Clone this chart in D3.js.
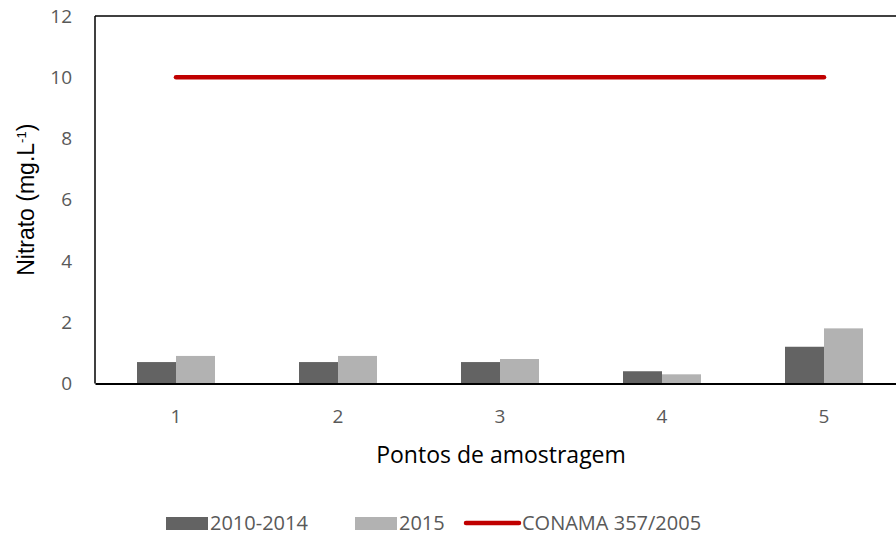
<!DOCTYPE html>
<html>
<head>
<meta charset="utf-8">
<script src="https://cdn.jsdelivr.net/npm/d3@7"></script>
<style>
  body { margin: 0; background: #fff; }
  .tick text { font-family: "Open Sans", Lato, sans-serif; }
</style>
</head>
<body>
<div id="chart"></div>
<script>
// Data
const pontos = ['1', '2', '3', '4', '5']
const serie2010 = [0.7, 0.7, 0.7, 0.4, 1.2]
const serie2015 = [0.9, 0.9, 0.8, 0.3, 1.8]
const conama = [10, 10, 10, 10, 10]
const yTicks = [0, 2, 4, 6, 8, 10, 12]
const seriesNames = ['2010-2014', '2015']

function draw() {
  const dimensions = {
    width: 896,
    height: 543,
    left: 95,
    right: 905,
    top: 16,
    bottom: 383.5,
  }

  const svg = d3.select('#chart')
    .append('svg')
    .attr('width', dimensions.width)
    .attr('height', dimensions.height)

  const dataset = pontos.map((p, i) => ({
    ponto: p,
    values: [serie2010[i], serie2015[i]],
    limite: conama[i],
  }))

  // Scales
  const xScale = d3.scaleBand()
    .domain(pontos)
    .range([dimensions.left, dimensions.right])

  const xSub = d3.scaleBand()
    .domain(seriesNames)
    .range([0, xScale.bandwidth()])
    .paddingInner(0)
    .paddingOuter(1.077)

  const yScale = d3.scaleLinear()
    .domain([0, 12])
    .range([dimensions.bottom, dimensions.top])

  const colors = d3.scaleOrdinal()
    .domain(seriesNames)
    .range(['#636363', '#b2b2b2'])

  // Bars
  const groups = svg.append('g')
    .selectAll('g')
    .data(dataset)
    .join('g')
    .attr('transform', d => `translate(${xScale(d.ponto)},0)`)

  groups.selectAll('rect')
    .data(d => d.values.map((v, i) => ({ key: seriesNames[i], value: v })))
    .join('rect')
    .attr('x', d => xSub(d.key))
    .attr('width', xSub.bandwidth())
    .attr('y', d => yScale(d.value))
    .attr('height', d => yScale(0) - yScale(d.value))
    .attr('fill', d => colors(d.key))

  // CONAMA line
  const lineGenerator = d3.line()
    .x(d => xScale(d.ponto) + xScale.bandwidth() / 2)
    .y(d => yScale(d.limite))

  svg.append('path')
    .datum(dataset)
    .attr('d', lineGenerator)
    .attr('fill', 'none')
    .attr('stroke', '#c00000')
    .attr('stroke-width', 4.5)
    .attr('stroke-linecap', 'round')

  // Frame
  svg.append('line')
    .attr('x1', dimensions.left).attr('x2', dimensions.right)
    .attr('y1', dimensions.top).attr('y2', dimensions.top)
    .attr('stroke', '#000').attr('stroke-width', 1.5)
  svg.append('line')
    .attr('x1', dimensions.left).attr('x2', dimensions.left)
    .attr('y1', dimensions.top).attr('y2', dimensions.bottom)
    .attr('stroke', '#000').attr('stroke-width', 1.5)

  // Axes
  const xAxis = d3.axisBottom(xScale).tickSize(0).tickPadding(26)
  const xAxisGroup = svg.append('g')
    .attr('transform', `translate(0, ${dimensions.bottom})`)
    .call(xAxis)
  xAxisGroup.select('.domain').attr('stroke', '#000').attr('stroke-width', 2.2)
  xAxisGroup.selectAll('text')
    .attr('fill', '#595959')
    .style('font-size', '19px')

  const yAxis = d3.axisLeft(yScale).tickValues(yTicks).tickSize(0).tickPadding(23)
  const yAxisGroup = svg.append('g')
    .attr('transform', `translate(${dimensions.left}, 0)`)
    .call(yAxis)
  yAxisGroup.select('.domain').remove()
  yAxisGroup.selectAll('text')
    .attr('fill', '#595959')
    .style('font-size', '19px')

  // Axis titles
  svg.append('text')
    .attr('x', 501)
    .attr('y', 463)
    .attr('text-anchor', 'middle')
    .style('font-family', '"Open Sans", Lato, sans-serif')
    .style('font-size', '23px')
    .attr('fill', '#000')
    .text('Pontos de amostragem')

  const yTitle = svg.append('text')
    .attr('transform', `translate(34, ${(dimensions.top + dimensions.bottom) / 2}) rotate(-90)`)
    .attr('text-anchor', 'middle')
    .style('font-family', '"Liberation Sans", Arial, sans-serif')
    .style('font-size', '23px')
    .attr('fill', '#000')
  yTitle.append('tspan').text('Nitrato (mg.L')
  yTitle.append('tspan').attr('dy', -8).style('font-size', '13px').text('-1')
  yTitle.append('tspan').attr('dy', 8).text(')')

  // Legend
  const legend = svg.append('g')
    .style('font-family', '"Open Sans", Lato, sans-serif')
    .style('font-size', '20px')
  const legendY = 523

  legend.append('rect')
    .attr('x', 166).attr('y', legendY - 6).attr('width', 42).attr('height', 13)
    .attr('fill', colors('2010-2014'))
  legend.append('text')
    .attr('x', 210).attr('y', legendY).attr('dy', '0.35em')
    .attr('fill', '#595959').text('2010-2014')

  legend.append('rect')
    .attr('x', 355).attr('y', legendY - 6).attr('width', 42).attr('height', 13)
    .attr('fill', colors('2015'))
  legend.append('text')
    .attr('x', 399).attr('y', legendY).attr('dy', '0.35em')
    .attr('fill', '#595959').text('2015')

  legend.append('line')
    .attr('x1', 466).attr('x2', 519).attr('y1', legendY).attr('y2', legendY)
    .attr('stroke', '#c00000').attr('stroke-width', 4.5).attr('stroke-linecap', 'round')
  legend.append('text')
    .attr('x', 522).attr('y', legendY).attr('dy', '0.35em')
    .attr('fill', '#595959').text('CONAMA 357/2005')
}

draw()
</script>
</body>
</html>
